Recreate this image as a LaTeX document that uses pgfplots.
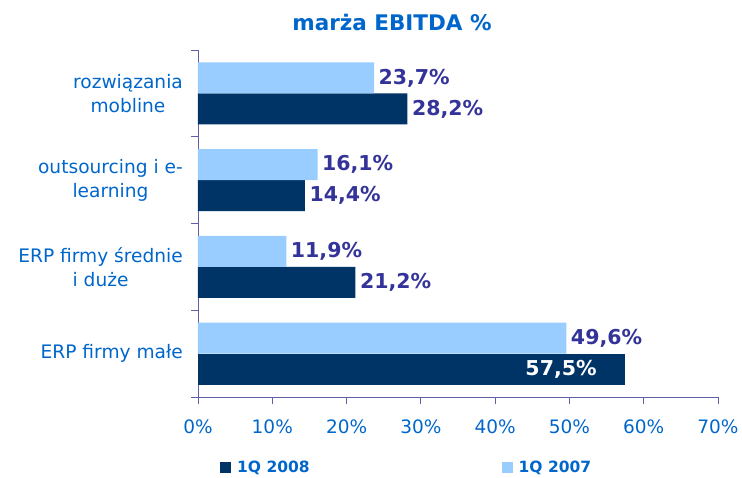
\documentclass[border=0pt]{standalone}
\usepackage{pgfplots}
\pgfplotsset{compat=1.18}
\usepackage{fontspec}
\setmainfont{DejaVu Sans}
\definecolor{darkbar}{HTML}{003366}
\definecolor{lightbar}{HTML}{99CCFF}
\definecolor{txtblue}{HTML}{0066CC}
\definecolor{valblue}{HTML}{333399}
\definecolor{axcol}{HTML}{6060A8}
\begin{document}
\begin{tikzpicture}[x=1pt,y=1pt]
\useasboundingbox (0,0) rectangle (742,478);
\node[font=\fontsize{21.5}{24}\selectfont\bfseries, text=txtblue] at (392,456) {marża EBITDA \%};
\begin{axis}[
  at={(198pt,81pt)}, anchor=south west,
  scale only axis, width=520pt, height=347pt,
  xmin=0, xmax=70, ymin=-0.5, ymax=3.5,
  xbar, bar width=31pt,
  axis x line*=bottom, axis y line*=left,
  axis line style={-, draw=axcol, line width=0.8pt},
  xtick={0,10,...,70},
  xticklabel={\pgfmathprintnumber{\tick}\%},
  xticklabel style={font=\fontsize{18.5}{22}\selectfont, text=txtblue, yshift=-12pt},
  /pgf/number format/assume math mode=true,
  ytick={0,1,2,3},
  yticklabels={ERP firmy małe, {ERP firmy średnie\\i duże}, {outsourcing i e-\\learning}, {rozwiązania\\mobline}},
  yticklabel style={font=\fontsize{18.6}{24}\selectfont, text=txtblue, align=center, inner sep=0pt, xshift=-8pt},
  minor ytick={-0.5,0.5,1.5,2.5,3.5},
  major y tick style={draw=none},
  minor y tick style={draw=axcol, line width=0.8pt},
  x tick style={draw=axcol, line width=0.8pt},
  tick align=outside,
  major tick length=7pt, minor tick length=7pt,
  point meta=explicit symbolic,
  legend columns=2,
  legend style={draw=none, at={(22pt,-71pt)}, anchor=west, inner sep=0pt,
    font=\fontsize{15.5}{18}\selectfont\bfseries, text=txtblue,
    /tikz/every odd column/.append style={column sep=4pt},
    /tikz/every even column/.append style={column sep=190pt}},
  legend image code/.code={\fill[#1] (0pt,-5.5pt) rectangle (11pt,5.5pt);},
]
\addplot[fill=darkbar, draw=none, bar shift=-15.5pt,
  nodes near coords, every node near coord/.append style={anchor=west, xshift=1pt, text=valblue, font=\fontsize{20.5}{22}\selectfont\bfseries}]
  coordinates {(21.2,1) [21,2\%] (14.4,2) [14,4\%] (28.2,3) [28,2\%]};
\addlegendentry{1Q 2008}
\addplot[fill=lightbar, draw=none, bar shift=15.5pt,
  nodes near coords, every node near coord/.append style={anchor=west, xshift=1pt, text=valblue, font=\fontsize{20.5}{22}\selectfont\bfseries}]
  coordinates {(49.6,0) [49,6\%] (11.9,1) [11,9\%] (16.1,2) [16,1\%] (23.7,3) [23,7\%]};
\addlegendentry{1Q 2007}
\addplot[forget plot, fill=darkbar, draw=none, bar shift=-15.5pt,
  nodes near coords, every node near coord/.append style={anchor=east, xshift=-25pt, text=white, font=\fontsize{20.5}{22}\selectfont\bfseries}]
  coordinates {(57.5,0) [57,5\%]};
\end{axis}
\end{tikzpicture}
\end{document}
